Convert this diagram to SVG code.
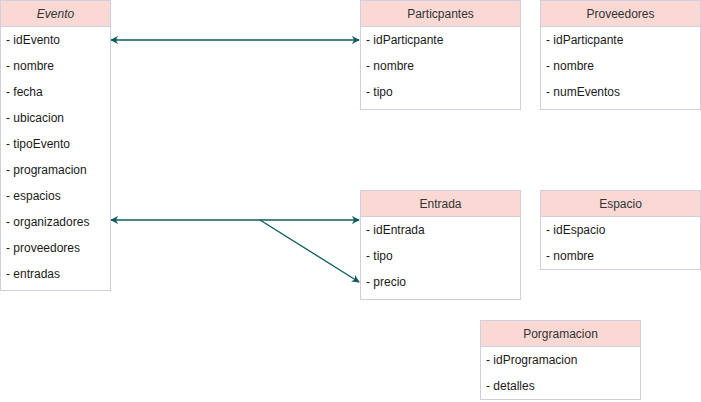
<svg xmlns="http://www.w3.org/2000/svg" width="701" height="402" viewBox="0 0 701 402">
<defs>
<style>
.box{fill:#ffffff;stroke:#d0cee2;stroke-width:1}
.hdr{fill:#fad9d5;stroke:#d0cee2;stroke-width:1}
.t{font-family:"Liberation Sans",Arial,sans-serif;font-size:12px;fill:#1a1a1a}
.h{font-family:"Liberation Sans",Arial,sans-serif;font-size:12px;fill:#333333;text-anchor:middle}
.c{fill:none;stroke:#0f5b5b;stroke-width:1.3}
</style>
<marker id="ae" viewBox="0 0 10 10" refX="9" refY="5" markerWidth="8" markerHeight="8" markerUnits="userSpaceOnUse" orient="auto">
<path d="M0,0 L10,5 L0,10 L3,5 Z" fill="#0f5b5b"/>
</marker>
<marker id="as" viewBox="0 0 10 10" refX="1" refY="5" markerWidth="8" markerHeight="8" markerUnits="userSpaceOnUse" orient="auto">
<path d="M10,0 L0,5 L10,10 L7,5 Z" fill="#0f5b5b"/>
</marker>
</defs>
<rect width="701" height="402" fill="#ffffff"/>
<g id="connectors">
<line class="c" x1="111" y1="40" x2="359" y2="40" marker-start="url(#as)" marker-end="url(#ae)"/>
<line class="c" x1="111" y1="220" x2="359" y2="220" marker-start="url(#as)" marker-end="url(#ae)"/>
<line class="c" x1="260" y1="220" x2="359" y2="282" marker-end="url(#ae)"/>
</g>
<g id="evento">
<rect class="box" x="0.5" y="0.5" width="110" height="290"/>
<rect class="hdr" x="0.5" y="0.5" width="110" height="26"/>
<text class="h" x="55.5" y="18" font-style="italic">Evento</text>
<text class="t" x="6" y="44">- idEvento</text>
<text class="t" x="6" y="70">- nombre</text>
<text class="t" x="6" y="96">- fecha</text>
<text class="t" x="6" y="122">- ubicacion</text>
<text class="t" x="6" y="148">- tipoEvento</text>
<text class="t" x="6" y="174">- programacion</text>
<text class="t" x="6" y="200">- espacios</text>
<text class="t" x="6" y="226">- organizadores</text>
<text class="t" x="6" y="252">- proveedores</text>
<text class="t" x="6" y="278">- entradas</text>
</g>
<g id="participantes">
<rect class="box" x="360.5" y="0.5" width="160" height="109"/>
<rect class="hdr" x="360.5" y="0.5" width="160" height="26"/>
<text class="h" x="440.5" y="18">Particpantes</text>
<text class="t" x="366" y="44">- idParticpante</text>
<text class="t" x="366" y="70">- nombre</text>
<text class="t" x="366" y="96">- tipo</text>
</g>
<g id="proveedores">
<rect class="box" x="540.5" y="0.5" width="160" height="109"/>
<rect class="hdr" x="540.5" y="0.5" width="160" height="26"/>
<text class="h" x="620.5" y="18">Proveedores</text>
<text class="t" x="546" y="44">- idParticpante</text>
<text class="t" x="546" y="70">- nombre</text>
<text class="t" x="546" y="96">- numEventos</text>
</g>
<g id="entrada">
<rect class="box" x="360.5" y="190.5" width="160" height="109"/>
<rect class="hdr" x="360.5" y="190.5" width="160" height="26"/>
<text class="h" x="440.5" y="208">Entrada</text>
<text class="t" x="366" y="234">- idEntrada</text>
<text class="t" x="366" y="260">- tipo</text>
<text class="t" x="366" y="286">- precio</text>
</g>
<g id="espacio">
<rect class="box" x="540.5" y="190.5" width="160" height="79"/>
<rect class="hdr" x="540.5" y="190.5" width="160" height="26"/>
<text class="h" x="620.5" y="208">Espacio</text>
<text class="t" x="546" y="234">- idEspacio</text>
<text class="t" x="546" y="260">- nombre</text>
</g>
<g id="porgramacion">
<rect class="box" x="480.5" y="320.5" width="160" height="79"/>
<rect class="hdr" x="480.5" y="320.5" width="160" height="26"/>
<text class="h" x="560.5" y="338">Porgramacion</text>
<text class="t" x="486" y="364">- idProgramacion</text>
<text class="t" x="486" y="390">- detalles</text>
</g>
</svg>
